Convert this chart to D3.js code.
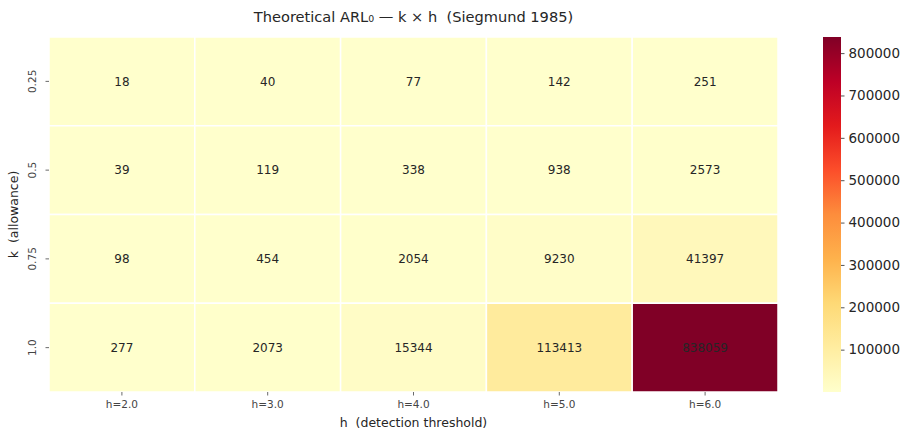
<!DOCTYPE html>
<html>
<head>
<meta charset="utf-8">
<script src="https://cdn.jsdelivr.net/npm/d3@7"></script>
<style>
  body { margin: 0; background: #fff; }
  text { font-family: "DejaVu Sans", sans-serif; white-space: pre; }
</style>
</head>
<body>
<div id="wrapper"></div>
<script>
// k rows, h columns
var kLabels = ["0.25", "0.5", "0.75", "1.0"];
var hLabels = ["h=2.0", "h=3.0", "h=4.0", "h=5.0", "h=6.0"];
var arlRow025 = [18, 40, 77, 142, 251];
var arlRow050 = [39, 119, 338, 938, 2573];
var arlRow075 = [98, 454, 2054, 9230, 41397];
var arlRow100 = [277, 2073, 15344, 113413, 838059];
var cbarTicks = [100000, 200000, 300000, 400000, 500000, 600000, 700000, 800000];

var rows = [arlRow025, arlRow050, arlRow075, arlRow100];

// matplotlib YlOrRd stops
var ylOrRd = ["#ffffcc", "#ffeda0", "#fed976", "#feb24c", "#fd8d3c",
              "#fc4e2a", "#e31a1c", "#bd0026", "#800026"];

var W = 913, H = 440;
var margin = {top: 37, left: 49};
var width = 729, height = 355;

var svg = d3.select("#wrapper").append("svg")
    .attr("width", W)
    .attr("height", H);

var cells = [];
rows.forEach(function (r, i) {
  r.forEach(function (v, j) {
    cells.push({k: kLabels[i], h: hLabels[j], value: v});
  });
});

var vmin = d3.min(cells, function (d) { return d.value; });
var vmax = d3.max(cells, function (d) { return d.value; });

var color = d3.scaleLinear()
    .domain(ylOrRd.map(function (c, i) { return vmin + (vmax - vmin) * i / (ylOrRd.length - 1); }))
    .range(ylOrRd)
    .interpolate(d3.interpolateRgb);

var x = d3.scaleBand().domain(hLabels).range([0, width]);
var y = d3.scaleBand().domain(kLabels).range([0, height]);

var g = svg.append("g")
    .attr("transform", "translate(" + margin.left + "," + margin.top + ")");

g.selectAll(".cell")
    .data(cells)
  .enter().append("rect")
    .attr("class", "cell")
    .attr("x", function (d) { return x(d.h); })
    .attr("y", function (d) { return y(d.k); })
    .attr("width", x.bandwidth())
    .attr("height", y.bandwidth())
    .attr("fill", function (d) { return color(d.value); })
    .attr("stroke", "#fff")
    .attr("stroke-width", 1.5);

g.selectAll(".annot")
    .data(cells)
  .enter().append("text")
    .attr("class", "annot")
    .attr("x", function (d) { return x(d.h) + x.bandwidth() / 2; })
    .attr("y", function (d) { return y(d.k) + y.bandwidth() / 2; })
    .attr("dy", "0.35em")
    .attr("text-anchor", "middle")
    .attr("font-size", "12px")
    .attr("fill", "#262626")
    .text(function (d) { return d.value; });

// x axis
var xAxis = g.append("g")
    .attr("transform", "translate(0," + height + ")")
    .call(d3.axisBottom(x).tickSize(3.5).tickPadding(5));
xAxis.select(".domain").remove();
xAxis.selectAll("line").attr("stroke", "#444").attr("stroke-width", 0.8);
xAxis.selectAll("text").attr("font-size", "10.5px").attr("fill", "#444")
    .style("font-family", "DejaVu Sans");

// y axis
var yAxis = g.append("g")
    .call(d3.axisLeft(y).tickSize(3.5).tickPadding(5));
yAxis.select(".domain").remove();
yAxis.selectAll("line").attr("stroke", "#444").attr("stroke-width", 0.8);
yAxis.selectAll("text")
    .attr("font-size", "10.5px").attr("fill", "#444")
    .style("font-family", "DejaVu Sans")
    .attr("text-anchor", "middle")
    .attr("x", null).attr("dy", null)
    .attr("transform", "translate(-17,0) rotate(-90)")
    .attr("dominant-baseline", "central");

// axis labels
svg.append("text")
    .attr("x", margin.left + width / 2)
    .attr("y", 427)
    .attr("text-anchor", "middle")
    .attr("font-size", "12.5px")
    .attr("fill", "#262626")
    .text("h  (detection threshold)");

svg.append("text")
    .attr("transform", "translate(18," + (margin.top + height / 2) + ") rotate(-90)")
    .attr("text-anchor", "middle")
    .attr("font-size", "12.5px")
    .attr("fill", "#262626")
    .text("k  (allowance)");

// title
svg.append("text")
    .attr("x", margin.left + width / 2)
    .attr("y", 22)
    .attr("text-anchor", "middle")
    .attr("font-size", "14.6px")
    .attr("fill", "#262626")
    .text("Theoretical ARL\u2080 \u2014 k \u00d7 h  (Siegmund 1985)");

// colorbar
var cbX = 823, cbW = 18, cbTop = 37, cbH = 355;
var defs = svg.append("defs");
var grad = defs.append("linearGradient")
    .attr("id", "cbgrad")
    .attr("x1", "0").attr("y1", "1").attr("x2", "0").attr("y2", "0");
grad.selectAll("stop")
    .data(ylOrRd)
  .enter().append("stop")
    .attr("offset", function (d, i) { return i / (ylOrRd.length - 1); })
    .attr("stop-color", function (d) { return d; });

svg.append("rect")
    .attr("x", cbX).attr("y", cbTop)
    .attr("width", cbW).attr("height", cbH)
    .attr("fill", "url(#cbgrad)");

var cy = d3.scaleLinear().domain([vmin, vmax]).range([cbTop + cbH, cbTop]);
var cAxis = svg.append("g")
    .attr("transform", "translate(" + (cbX + cbW) + ",0)")
    .call(d3.axisRight(cy).tickValues(cbarTicks).tickSize(3.5).tickPadding(4)
      .tickFormat(d3.format("d")));
cAxis.select(".domain").remove();
cAxis.selectAll("line").attr("stroke", "#262626").attr("stroke-width", 0.8);
cAxis.selectAll("text").attr("font-size", "13.5px").attr("fill", "#262626")
    .style("font-family", "DejaVu Sans");
</script>
</body>
</html>
